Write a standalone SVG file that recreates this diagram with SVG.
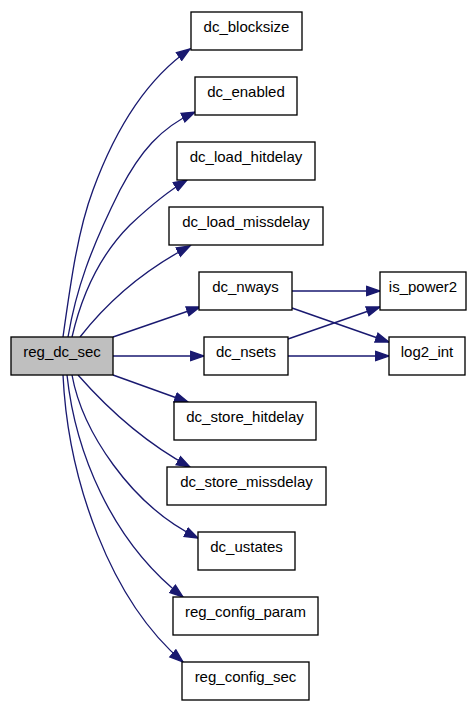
<svg xmlns="http://www.w3.org/2000/svg" width="469" height="702" viewBox="0 0 469 702">
<style>
.node rect{fill:#ffffff;stroke:#000000;stroke-width:1.33}
.node.root rect{fill:#bfbfbf}
.node text{font-family:"Liberation Sans",Arial,sans-serif;font-size:15px;fill:#000000;text-anchor:middle}
.edges path{fill:none;stroke:#191970;stroke-width:1.33;marker-end:url(#arr)}
</style>
<defs>
<marker id="arr" markerUnits="userSpaceOnUse" markerWidth="16" markerHeight="12" viewBox="0 0 16 12" refX="14" refY="6" orient="auto">
<path d="M0.7,1.35 L14,6 L0.7,10.65 z" fill="#191970" stroke="#191970" stroke-width="1.33"/>
</marker>
</defs>
<rect width="469" height="702" fill="#ffffff"/>
<g class="edges">
<path d="M63,337 C71,280 78,230 93,190 C115,130 145,80 190,49"/>
<path d="M68,337 C76,290 90,250 120,190 C140,152 160,128 195,112"/>
<path d="M72,337 C84,285 105,250 130,225 C148,208 165,193 187,180"/>
<path d="M80,337 C105,305 140,272 190,246"/>
<path d="M113,337 L200,307"/>
<path d="M113,356 L204,356"/>
<path d="M113,375 L188,402"/>
<path d="M78,375 C100,400 140,440 190,467"/>
<path d="M72,375 C82,430 130,505 198,538"/>
<path d="M67,375 C75,450 110,540 183,597"/>
<path d="M63,375 C68,480 110,600 183,662"/>
<path d="M292,291 L380,291"/>
<path d="M292,308 L389,342"/>
<path d="M288,339 L380,307"/>
<path d="M288,356 L389,356"/>
</g>
<g id="reg_dc_sec" class="node root"><rect x="11" y="337" width="102" height="38"/><text x="62" y="356.5">reg_dc_sec</text></g>
<g id="dc_blocksize" class="node"><rect x="191" y="12" width="111" height="38"/><text x="246.5" y="31.5">dc_blocksize</text></g>
<g id="dc_enabled" class="node"><rect x="195" y="77" width="102" height="38"/><text x="246" y="96.5">dc_enabled</text></g>
<g id="dc_load_hitdelay" class="node"><rect x="177" y="142" width="138" height="38"/><text x="246" y="161.5">dc_load_hitdelay</text></g>
<g id="dc_load_missdelay" class="node"><rect x="169" y="207" width="154" height="38"/><text x="246" y="226.5">dc_load_missdelay</text></g>
<g id="dc_nways" class="node"><rect x="199" y="272" width="93" height="38"/><text x="245.5" y="291.5">dc_nways</text></g>
<g id="dc_nsets" class="node"><rect x="204" y="337" width="84" height="38"/><text x="246" y="356.5">dc_nsets</text></g>
<g id="dc_store_hitdelay" class="node"><rect x="174" y="402" width="142" height="38"/><text x="245" y="421.5">dc_store_hitdelay</text></g>
<g id="dc_store_missdelay" class="node"><rect x="167" y="467" width="159" height="38"/><text x="246.5" y="486.5">dc_store_missdelay</text></g>
<g id="dc_ustates" class="node"><rect x="198" y="532" width="97" height="38"/><text x="246.5" y="551.5">dc_ustates</text></g>
<g id="reg_config_param" class="node"><rect x="173" y="597" width="145" height="38"/><text x="245.5" y="616.5">reg_config_param</text></g>
<g id="reg_config_sec" class="node"><rect x="182" y="662" width="127" height="38"/><text x="245.5" y="681.5">reg_config_sec</text></g>
<g id="is_power2" class="node"><rect x="380" y="272" width="86" height="38"/><text x="423" y="291.5">is_power2</text></g>
<g id="log2_int" class="node"><rect x="389" y="337" width="76" height="38"/><text x="427" y="356.5">log2_int</text></g>
</svg>
